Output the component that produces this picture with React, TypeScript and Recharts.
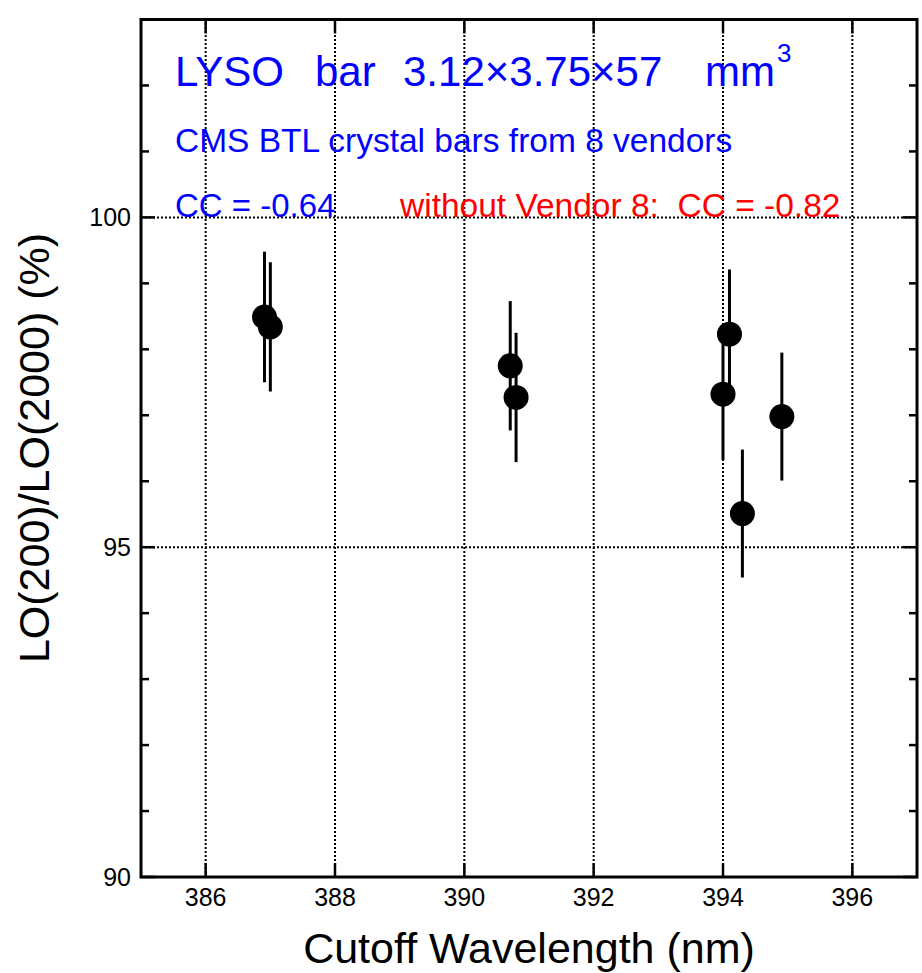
import React from 'react';
import { ScatterChart, Scatter, XAxis, YAxis, ErrorBar, ReferenceLine, ReferenceArea } from 'recharts';

const wavelength = [386.91, 387.0, 390.71, 390.8, 394.0, 394.1, 394.3, 394.91];
const loRatio = [98.49, 98.34, 97.75, 97.27, 97.32, 98.23, 95.51, 96.98];
const loError = [0.99, 0.98, 0.98, 0.98, 1.0, 0.98, 0.97, 0.97];

const xTicks = [386, 388, 390, 392, 394, 396];
const yTicks = [90, 91, 92, 93, 94, 95, 96, 97, 98, 99, 100, 101, 102];
const yMajor = [90, 95, 100];
const gridX = [386, 388, 390, 392, 394, 396];
const gridY = [95, 100];

const X_DOMAIN: [number, number] = [385, 397];
const Y_DOMAIN: [number, number] = [90, 103];

const FONT = 'Arial, "Liberation Sans", sans-serif';

const data = wavelength.map((x, i) => ({ x, y: loRatio[i], err: loError[i] }));

const BottomTick = (props: any) => {
  const { x, y, payload } = props;
  return (
    <g>
      <line x1={x} x2={x} y1={y} y2={y - 14} stroke="#000" strokeWidth={2.5} />
      <text x={x} y={y + 29} textAnchor="middle" fontSize={25} fontFamily={FONT} fill="#000">
        {payload.value}
      </text>
    </g>
  );
};

const TopTick = (props: any) => {
  const { x, y } = props;
  return <line x1={x} x2={x} y1={y} y2={y + 14} stroke="#000" strokeWidth={2.5} />;
};

const LeftTick = (props: any) => {
  const { x, y, payload } = props;
  const major = yMajor.includes(payload.value);
  return (
    <g>
      <line x1={x} x2={x + (major ? 14 : 8)} y1={y} y2={y} stroke="#000" strokeWidth={2.5} />
      {major && (
        <text x={x - 10} y={y + 9} textAnchor="end" fontSize={25} fontFamily={FONT} fill="#000">
          {payload.value}
        </text>
      )}
    </g>
  );
};

const RightTick = (props: any) => {
  const { x, y, payload } = props;
  const major = yMajor.includes(payload.value);
  return <line x1={x} x2={x - (major ? 14 : 8)} y1={y} y2={y} stroke="#000" strokeWidth={2.5} />;
};

const Dot = (props: any) => <circle cx={props.cx} cy={props.cy} r={12.5} fill="#000" />;

export default function App() {
  return (
    <div style={{ position: 'absolute', left: 0, top: 0, width: 922, height: 973, background: '#fff' }}>
      <ScatterChart width={922} height={973} margin={{ top: 18.5, right: 4, bottom: 0, left: 0 }}>
        <XAxis
          xAxisId={0}
          type="number"
          dataKey="x"
          domain={X_DOMAIN}
          allowDataOverflow
          ticks={xTicks}
          interval={0}
          height={96}
          axisLine={false}
          tickLine={false}
          tickSize={0}
          tickMargin={0}
          tick={BottomTick}
        />
        <XAxis
          xAxisId="top"
          orientation="top"
          type="number"
          dataKey="x"
          domain={X_DOMAIN}
          allowDataOverflow
          ticks={xTicks}
          interval={0}
          height={1}
          axisLine={false}
          tickLine={false}
          tickSize={0}
          tickMargin={0}
          tick={TopTick}
        />
        <YAxis
          yAxisId={0}
          type="number"
          dataKey="y"
          domain={Y_DOMAIN}
          allowDataOverflow
          ticks={yTicks}
          interval={0}
          width={141}
          axisLine={false}
          tickLine={false}
          tickSize={0}
          tickMargin={0}
          tick={LeftTick}
        />
        <YAxis
          yAxisId="right"
          orientation="right"
          type="number"
          dataKey="y"
          domain={Y_DOMAIN}
          allowDataOverflow
          ticks={yTicks}
          interval={0}
          width={1}
          axisLine={false}
          tickLine={false}
          tickSize={0}
          tickMargin={0}
          tick={RightTick}
        />
        {gridX.map((v) => (
          <ReferenceLine key={`gx-${v}`} x={v} stroke="#000" strokeWidth={2} strokeDasharray="2 2" />
        ))}
        {gridY.map((v) => (
          <ReferenceLine key={`gy-${v}`} y={v} stroke="#000" strokeWidth={2} strokeDasharray="2 2" />
        ))}
        <ReferenceArea
          x1={X_DOMAIN[0]}
          x2={X_DOMAIN[1]}
          y1={Y_DOMAIN[0]}
          y2={Y_DOMAIN[1]}
          fill="none"
          fillOpacity={0}
          stroke="#000"
          strokeWidth={3}
        />
        {/* invisible copy so the top/right frame axes get their own scale */}
        <Scatter
          data={data}
          xAxisId="top"
          yAxisId="right"
          shape={() => <g />}
          isAnimationActive={false}
        />
        <Scatter data={data} shape={Dot} isAnimationActive={false}>
          <ErrorBar dataKey="err" direction="y" width={0} stroke="#000" strokeWidth={3} isAnimationActive={false} />
        </Scatter>
      </ScatterChart>
      <svg
        width={922}
        height={973}
        style={{ position: 'absolute', left: 0, top: 0, pointerEvents: 'none' }}
        fontFamily={FONT}
      >
        <g fill="#0000ff">
          <text x={175} y={86} fontSize={42}>LYSO</text>
          <text x={315} y={86} fontSize={42}>bar</text>
          <text x={403} y={86} fontSize={42}>3.12×3.75×57</text>
          <text x={705} y={86} fontSize={42}>mm</text>
          <text x={777} y={62} fontSize={26}>3</text>
          <text x={175} y={151.5} fontSize={33.5}>CMS BTL crystal bars from 8 vendors</text>
          <text x={175} y={217} fontSize={33}>CC = -0.64</text>
        </g>
        <text x={400} y={217} fontSize={33.5} fill="#ff0000" style={{ whiteSpace: 'pre' }}>
          without Vendor 8:  CC = -0.82
        </text>
        <text x={529} y={963} fontSize={43} textAnchor="middle" fill="#000">
          Cutoff Wavelength (nm)
        </text>
        <text
          x={49}
          y={448}
          fontSize={43}
          textAnchor="middle"
          fill="#000"
          transform="rotate(-90 49 448)"
        >
          LO(200)/LO(2000) (%)
        </text>
      </svg>
    </div>
  );
}
